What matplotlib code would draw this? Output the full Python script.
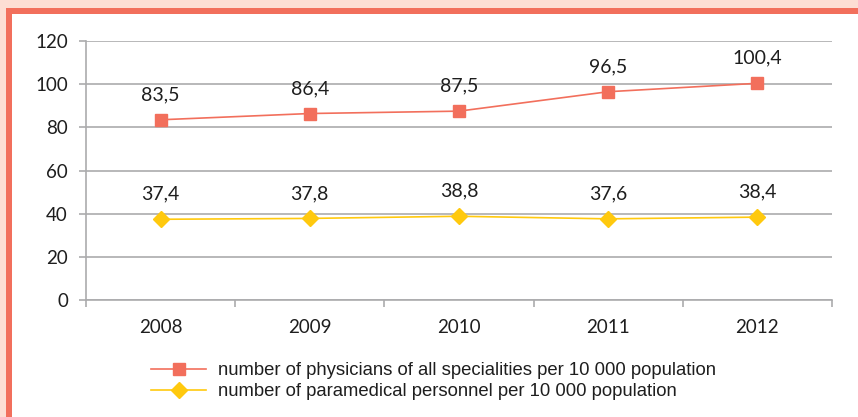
import matplotlib.pyplot as plt
from matplotlib.patches import Rectangle

years = ['2008', '2009', '2010', '2011', '2012']
physicians = [83.5, 86.4, 87.5, 96.5, 100.4]
paramedical = [37.4, 37.8, 38.8, 37.6, 38.4]
phys_labels = ['83,5', '86,4', '87,5', '96,5', '100,4']
para_labels = ['37,4', '37,8', '38,8', '37,6', '38,4']

red = '#F26F5C'
yellow = '#FFC90E'
grid_col = '#ABABAD'

W, H = 858, 417
fig = plt.figure(figsize=(W / 100, H / 100), dpi=100)

# decorative frame: pink band + salmon border on top and left
fig.patches.append(Rectangle((0, 0), 1, 1, transform=fig.transFigure,
                             facecolor='#FDDED4', edgecolor='none', zorder=-3))
fig.patches.append(Rectangle((6 / W, 0), 1, 1 - 8 / H, transform=fig.transFigure,
                             facecolor=red, edgecolor='none', zorder=-2))
fig.patches.append(Rectangle((12 / W, 0), 1, 1 - 14 / H, transform=fig.transFigure,
                             facecolor='white', edgecolor='none', zorder=-1))

ax = fig.add_axes([86 / W, 1 - 300 / H, (832 - 86) / W, (300 - 41) / H])
ax.set_facecolor('none')

x = list(range(len(years)))
ax.plot(x, physicians, color=red, lw=1.2, marker='s', ms=8,
        label='number of physicians of all specialities per 10 000 population')
ax.plot(x, paramedical, color=yellow, lw=1.2, marker='D', ms=8.5,
        label='number of paramedical personnel per 10 000 population')

lab_font = dict(family='Lato', size=14, color='#1e1e1e')
for xi, v, t in zip(x, physicians, phys_labels):
    ax.annotate(t, (xi, v), xytext=(0, 18), textcoords='offset points',
                ha='center', va='center', **lab_font)
for xi, v, t in zip(x, paramedical, para_labels):
    ax.annotate(t, (xi, v), xytext=(0, 18), textcoords='offset points',
                ha='center', va='center', **lab_font)

ax.set_xlim(-0.5, len(years) - 0.5)
ax.set_ylim(0, 120)
ax.set_yticks(range(0, 121, 20))
ax.set_xticks(x)
ax.set_xticklabels(years)
ax.set_xticks([i - 0.5 for i in range(len(years) + 1)], minor=True)
ax.tick_params(axis='x', which='major', length=0, pad=14)
ax.tick_params(axis='x', which='minor', length=5, color=grid_col, width=1.2)
ax.tick_params(axis='y', length=5, color=grid_col, width=1.2, pad=8)
for lbl in ax.get_xticklabels() + ax.get_yticklabels():
    lbl.set_fontfamily('Lato')
    lbl.set_fontsize(13.5)
    lbl.set_color('#1e1e1e')

ax.grid(axis='y', color=grid_col, lw=1.2)
ax.set_axisbelow(True)
for s in ['top', 'right']:
    ax.spines[s].set_visible(False)
for s in ['left', 'bottom']:
    ax.spines[s].set_color(grid_col)
    ax.spines[s].set_linewidth(1.2)

leg = fig.legend(loc='upper left', bbox_to_anchor=(151 / W, 1 - 362 / H),
                 frameon=False, prop={'family': 'Liberation Sans', 'size': 13.3},
                 handlelength=3.0, handletextpad=0.6, labelspacing=0.22,
                 borderpad=0, borderaxespad=0)
for t in leg.get_texts():
    t.set_color('#1e1e1e')

fig.savefig('out.png', dpi=100)
